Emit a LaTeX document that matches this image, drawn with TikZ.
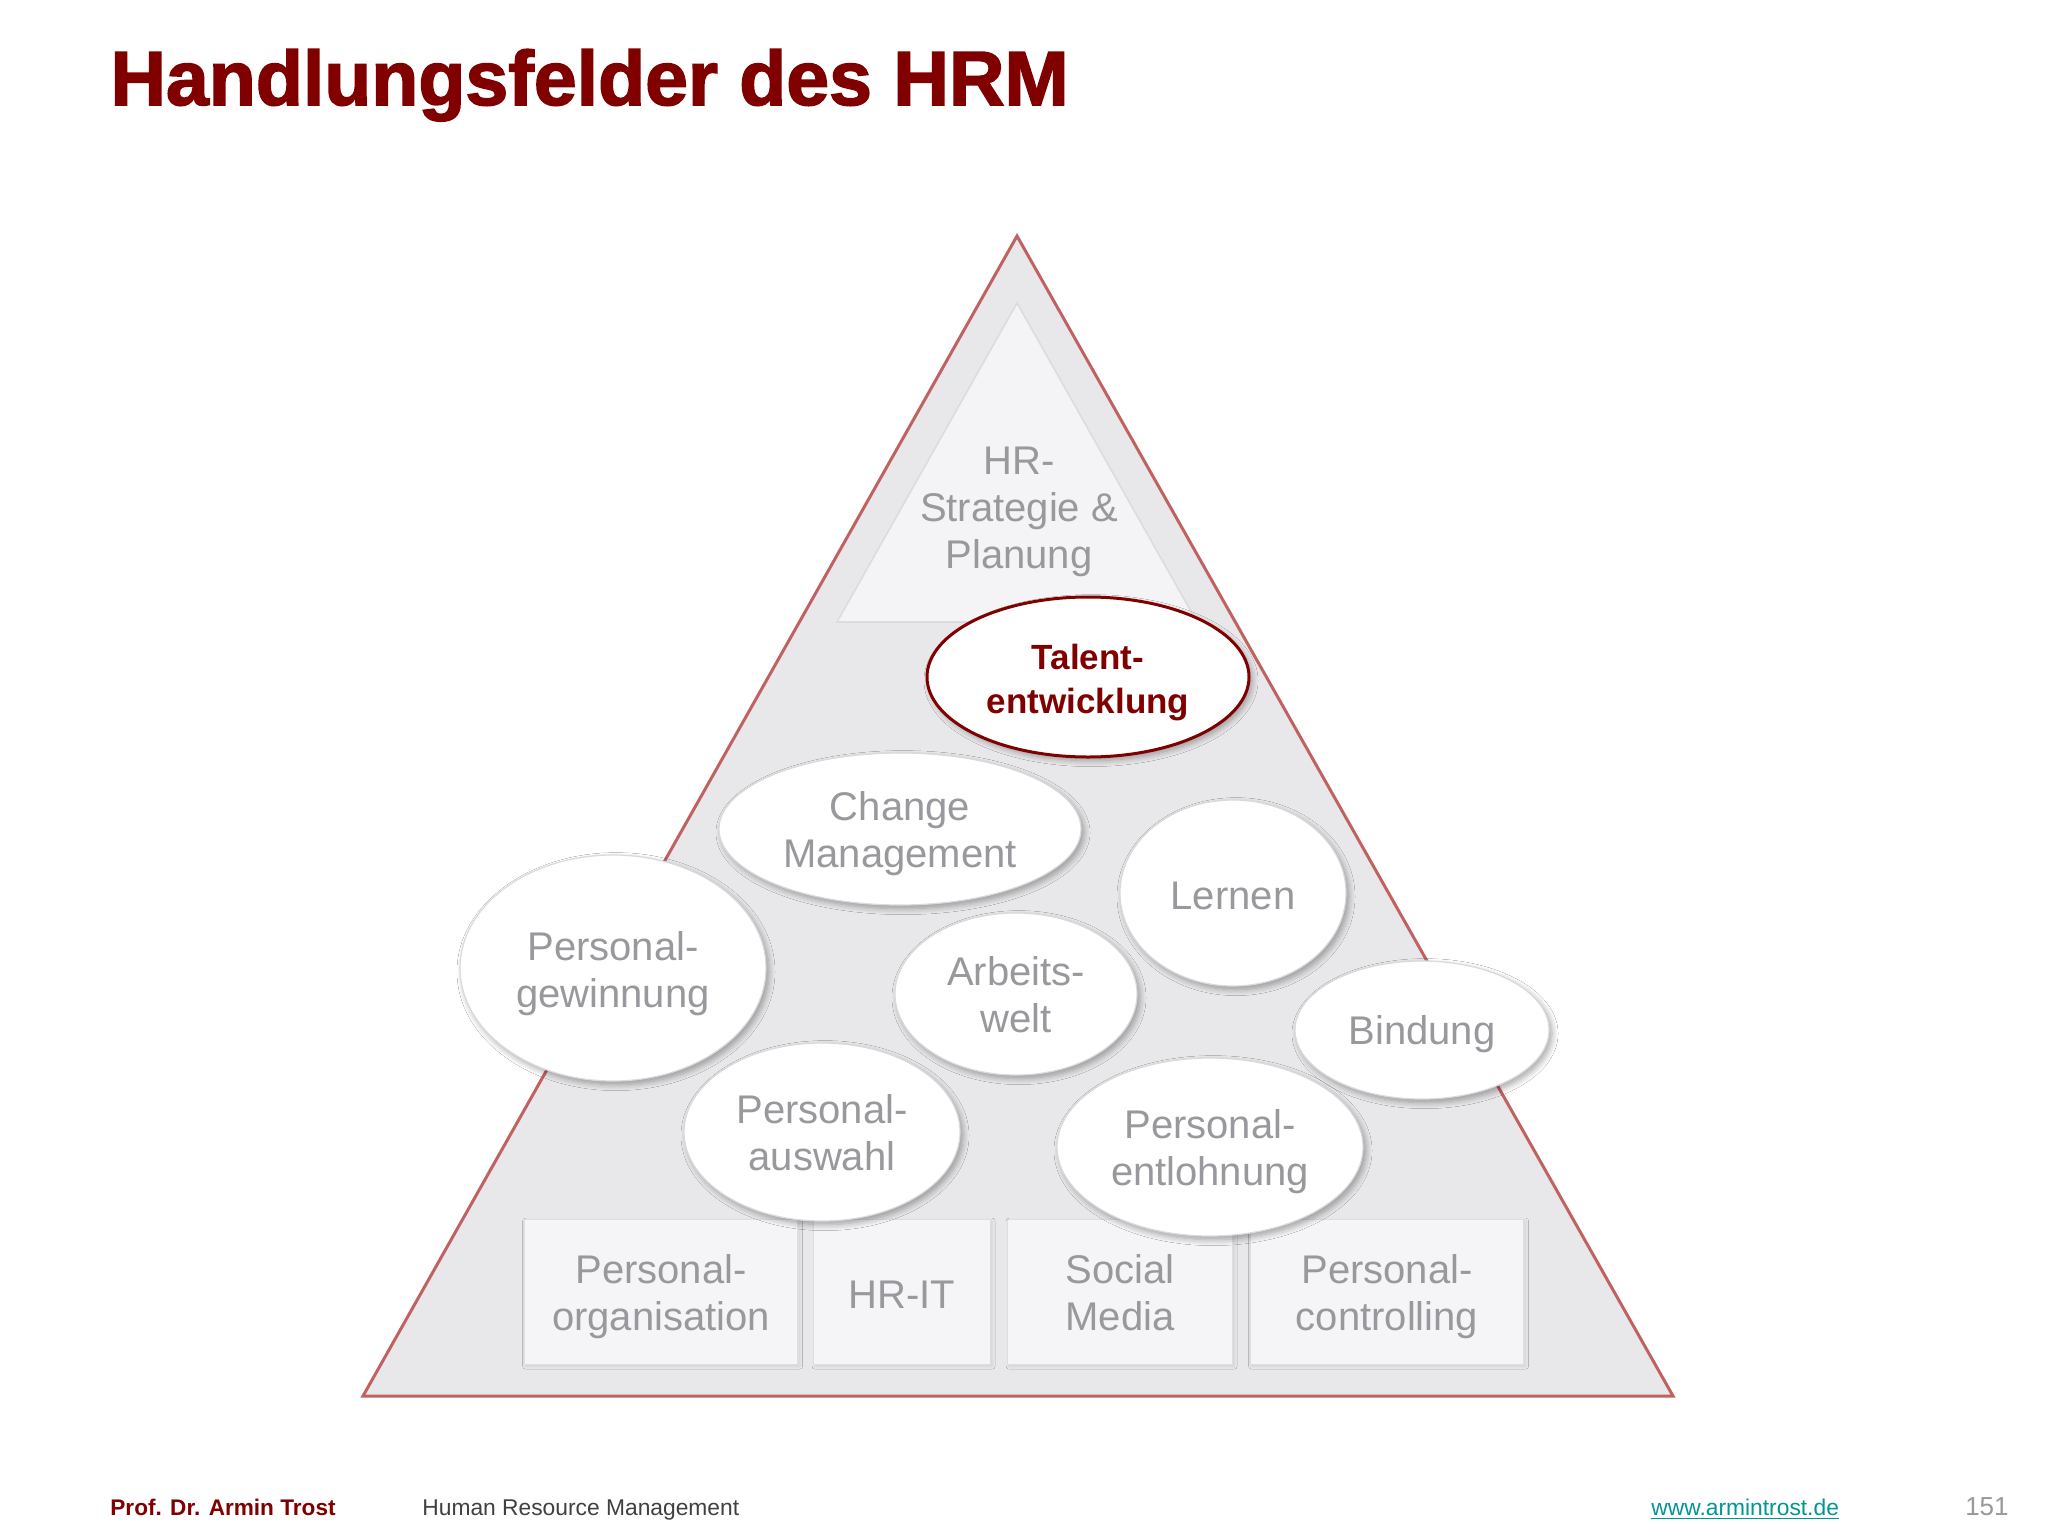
\documentclass[tikz,border=0pt]{standalone}
\usepackage{fontspec}
\setmainfont{Liberation Sans}
\newfontfamily\hrmtitlefont{Liberation Sans Bold}[FakeBold=2]
\usetikzlibrary{shapes.geometric,shadows.blur}
\definecolor{hrmred}{RGB}{128,0,0}
\definecolor{triedge}{RGB}{192,98,98}
\definecolor{trifill}{RGB}{232,232,234}
\definecolor{innerfill}{RGB}{244,244,246}
\definecolor{innerline}{RGB}{220,220,223}
\definecolor{boxfill}{RGB}{245,245,247}
\definecolor{boxline}{RGB}{222,222,225}
\definecolor{ellline}{RGB}{218,218,221}
\definecolor{txtgray}{RGB}{152,152,157}
\definecolor{urlteal}{RGB}{0,150,150}
% text block lowered by #1 without changing its box
\newcommand{\hrmtxt}[2]{\raisebox{-#1}[\height][\depth]{\begin{tabular}{@{}c@{}}#2\end{tabular}}}
\begin{document}
\begin{tikzpicture}[x=0.5pt,y=-0.5pt,
  bodytext/.style={font=\fontsize{20pt}{23.5pt}\selectfont, text=txtgray},
  elli/.style={ellipse, draw=ellline, fill=white, line width=0.6pt, inner sep=0pt,
    bodytext, blur shadow={shadow xshift=1.5pt, shadow yshift=-1.8pt, shadow blur radius=3pt, shadow blur steps=8, shadow opacity=35}},
  fieldbox/.style={rectangle, draw=boxline, fill=boxfill, line width=0.6pt, inner sep=0pt,
    minimum height=72.5pt, bodytext, blur shadow={shadow xshift=0.8pt, shadow yshift=-0.8pt, shadow blur radius=1.5pt, shadow opacity=10}},
  foot/.style={font=\fontsize{11.4pt}{13pt}\selectfont, anchor=base west, inner sep=0pt}
]
\useasboundingbox (0,0) rectangle (2048,1536);
\fill[white] (0,0) rectangle (2048,1536);

% title
\node[anchor=base west, inner sep=0pt, text=hrmred, font=\fontsize{38.5pt}{44pt}\hrmtitlefont] (title) at (110,105) {Handlungsfelder des HRM};

% pyramid
\coordinate (apex) at (1017,236);
\coordinate (bl) at (363,1396);
\coordinate (br) at (1673,1396);
\fill[trifill] (apex) -- (bl) -- (br) -- cycle;
\coordinate (iapex) at (1017,303);
\coordinate (ibl) at (837,622);
\coordinate (ibr) at (1197,622);
\filldraw[fill=innerfill, draw=innerline, line width=0.8pt] (iapex) -- (ibl) -- (ibr) -- cycle;
\draw[triedge, line width=1.5pt, line join=miter] (apex) -- (bl) -- (br) -- cycle;
\node[bodytext, inner sep=0pt] (strat) at (1019,508) {\hrmtxt{2pt}{HR-\\Strategie \&\\Planung}};

% bottom boxes
\node[fieldbox, minimum width=137pt] (porg) at (661,1292) {\hrmtxt{2.6pt}{Personal-\\organisation}};
\node[fieldbox, minimum width=88.5pt] (hrit) at (902,1292) {\hrmtxt{3.3pt}{HR-IT}};
\node[fieldbox, minimum width=112.5pt] (social) at (1120,1292) {\hrmtxt{2.7pt}{Social\\Media}};
\node[fieldbox, minimum width=137pt] (pctrl) at (1387,1292) {\hrmtxt{2.6pt}{Personal-\\controlling}};

% ellipses
\node[elli, minimum width=153pt, minimum height=113pt] (gew) at (613,968) {\hrmtxt{3.4pt}{Personal-\\gewinnung}};
\node[elli, minimum width=181pt, minimum height=76pt] (change) at (900,829) {\hrmtxt{2.6pt}{Change\\Management}};
\node[elli, minimum width=113pt, minimum height=93pt] (lernen) at (1233,893) {\hrmtxt{3.3pt}{Lernen}};
\node[elli, minimum width=121pt, minimum height=81pt] (arbeit) at (1016,994) {\hrmtxt{2.7pt}{Arbeits-\\welt}};
\node[elli, minimum width=127pt, minimum height=69pt] (bindung) at (1422,1030) {\hrmtxt{2.5pt}{Bindung}};
\node[elli, minimum width=138pt, minimum height=89pt] (auswahl) at (822,1132) {\hrmtxt{2.6pt}{Personal-\\auswahl}};
\node[elli, minimum width=153pt, minimum height=89pt] (entl) at (1210,1147) {\hrmtxt{2.6pt}{Personal-\\entlohnung}};
\node[elli, draw=hrmred, line width=1.5pt, minimum width=161pt, minimum height=80pt,
  text=hrmred, font=\fontsize{17.5pt}{22pt}\selectfont\bfseries] (talent) at (1088,677) {\hrmtxt{3pt}{Talent-\\entwicklung}};

% footer
\node[foot, text=hrmred, font=\fontsize{11.3pt}{13pt}\selectfont\bfseries] (author) at (110,1515) {Prof. Dr. Armin Trost};
\node[foot, text=black!75] (course) at (422,1515) {Human Resource Management};
\node[foot, text=urlteal] (url) at (1651,1515) {\underline{www.armintrost.de}};
\node[foot, anchor=base east, text=txtgray, font=\fontsize{13pt}{15pt}\selectfont] (page) at (2009,1515) {151};
\end{tikzpicture}
\end{document}
